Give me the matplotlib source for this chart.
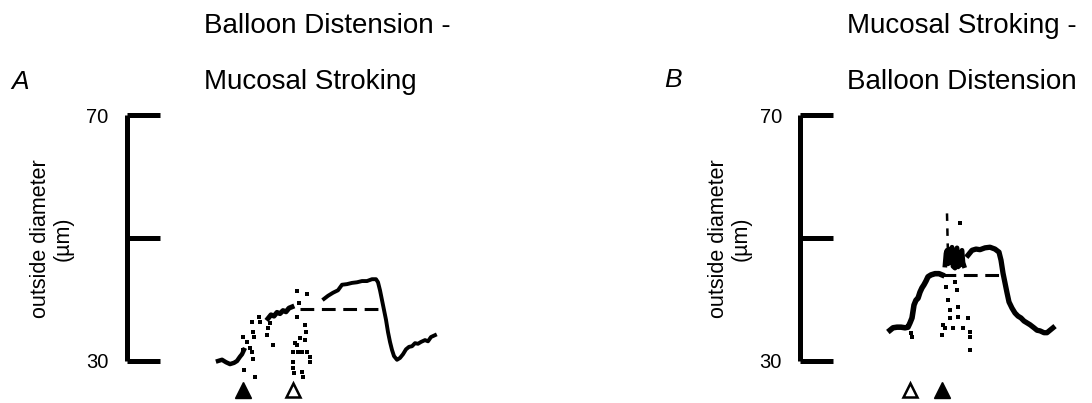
"""
Outside diameter traces for two stimulus orders (panel A / panel B).
"""

import matplotlib
matplotlib.use("Agg")
import matplotlib.pyplot as plt

plt.rcParams["font.family"] = ["Liberation Sans", "DejaVu Sans"]

W, H = 1092, 403

# ── Data: panel A (Balloon Distension - Mucosal Stroking) ───────────────────
a_t1 = [0, 4, 8, 12, 16, 19, 22, 24, 26]
a_v1 = [30.0, 30.2, 29.8, 29.5, 29.7, 30.0, 30.7, 31.1, 31.8]

a_t2 = [50, 53, 56, 59, 62, 65, 68, 71, 74]
a_v2 = [36.9, 37.5, 37.3, 37.9, 37.7, 38.2, 38.0, 38.6, 38.8]

a_t3 = [106, 110, 115, 120, 124, 129, 134, 139, 144, 149, 154, 158, 160, 162,
        164, 166, 168, 170, 172, 174, 176, 179, 182, 185, 188, 191, 194, 197,
        200, 203, 207, 210, 213, 217]
a_v3 = [40.1, 40.6, 41.1, 41.5, 42.4, 42.5, 42.7, 42.8, 43.0, 43.0, 43.3, 43.3,
        42.8, 41.5, 39.9, 38.3, 36.7, 34.7, 33.1, 31.8, 30.8, 30.2, 30.5, 31.1,
        31.9, 32.3, 32.4, 32.9, 32.8, 33.1, 33.4, 33.2, 33.9, 34.2]

a_dash_t = [82, 164]
a_dash_v = [38.5, 38.5]

a_dots_t = [25, 25, 29, 32, 34, 35, 34, 35, 36, 41, 42, 26, 37, 49, 50, 55, 52,
            79, 89, 81, 79, 87, 88, 82, 79, 75, 80, 84, 89, 92, 92, 75, 75, 76,
            84, 85, 77, 87]
a_dots_v = [33.9, 31.8, 33.1, 32.1, 31.5, 30.3, 36.3, 34.7, 33.9, 37.2, 36.3,
            28.5, 27.4, 34.2, 35.4, 32.6, 36.2, 41.4, 40.9, 39.4, 37.2, 35.9,
            34.7, 33.7, 32.6, 31.5, 31.5, 31.5, 31.5, 30.7, 29.8, 29.8, 28.9,
            28.0, 28.2, 27.4, 32.9, 33.4]

a_filled_t, a_open_t = 25, 75

# ── Data: panel B (Mucosal Stroking - Balloon Distension) ───────────────────
b_t1 = [0, 3, 7, 11, 15, 18, 20, 22, 24, 26, 28, 30, 32, 34, 36, 38, 41, 45,
        49, 52]
b_v1 = [35.0, 35.4, 35.5, 35.5, 35.4, 35.5, 36.2, 37.0, 39.1, 39.9, 40.2, 41.2,
        41.9, 42.4, 43.0, 43.7, 44.0, 44.2, 44.2, 44.0]

b_t2 = [55, 56, 57, 58, 60, 61, 62, 63, 65, 66, 67, 68, 70, 71, 72, 73, 74]
b_v2 = [45.6, 47.5, 48.0, 45.8, 46.1, 48.2, 48.5, 45.4, 45.1, 47.9, 48.4, 45.3,
        45.6, 47.6, 48.0, 46.0, 45.5]

b_t3 = [78, 82, 86, 90, 95, 100, 105, 109, 111, 113, 115, 117, 119, 122, 125,
        128, 131, 134, 137, 140, 144, 147, 150, 154, 157, 160, 163]
b_v3 = [47.2, 48.0, 48.2, 48.1, 48.4, 48.5, 48.2, 47.7, 46.4, 44.3, 42.7, 41.1,
        39.6, 38.6, 37.8, 37.3, 37.0, 36.5, 36.2, 35.9, 35.4, 35.0, 34.9, 34.6,
        34.6, 35.0, 35.4]

b_dash_t = [52, 113]
b_dash_v = [44.0, 44.0]

b_spike_t = [57, 58]
b_spike_v = [54.0, 47.0]

b_dots_t = [58, 60, 68, 68, 53, 55, 52, 63, 73, 78, 80, 80, 80, 65, 67, 60, 56,
            22, 21, 70]
b_dots_v = [39.9, 38.3, 38.8, 37.2, 35.9, 35.4, 34.2, 35.4, 35.4, 37.0, 34.7,
            33.9, 31.8, 42.8, 41.5, 37.0, 42.0, 33.9, 34.6, 52.4]

b_open_t, b_filled_t = 20, 52

marker_v = 25.3
ylim = (24, 72)


def px_axes(left, width, bottom_px, top_px):
    return [left / W, 1 - bottom_px / H, width / W, (bottom_px - top_px) / H]


def style_axes(ax):
    for s in ("top", "right", "bottom"):
        ax.spines[s].set_visible(False)
    ax.spines["left"].set_bounds(30, 70)
    ax.spines["left"].set_linewidth(3.6)
    ax.spines["left"].set_capstyle("butt")
    ax.set_ylim(*ylim)
    ax.set_yticks([30, 50, 70])
    ax.set_yticklabels(["30", "", "70"])
    ax.tick_params(axis="y", direction="in", length=23.8, width=3.6,
                   labelsize=14.5, pad=13)
    ax.set_xticks([])
    ax.patch.set_alpha(0)


fig = plt.figure(figsize=(W / 100, H / 100), dpi=100)

# y pixel of 24 µm and 72 µm given 30→361 px, 6.15 px per µm
bot_px = 361 + (30 - ylim[0]) * 6.15
top_px = 361 - (ylim[1] - 30) * 6.15

axA = fig.add_axes(px_axes(126.5, 321.5, bot_px, top_px))
axA.set_xlim(-91.5, 230)
style_axes(axA)
axA.plot(a_t1, a_v1, color="black", lw=3.2, solid_joinstyle="round")
axA.plot(a_t2, a_v2, color="black", lw=3.6, solid_joinstyle="round")
axA.plot(a_t3, a_v3, color="black", lw=2.8, solid_joinstyle="round")
axA.plot(a_dash_t, a_dash_v, color="black", lw=2.2, linestyle=(0, (4.5, 2.5)))
axA.plot(a_dots_t, a_dots_v, "s", color="black", ms=2.5, mew=0)
axA.plot([a_filled_t], [marker_v], "^", color="black", ms=11, clip_on=False)
axA.plot([a_open_t], [marker_v], "^", mfc="white", mec="black", mew=1.8,
         ms=10, clip_on=False)

axB = fig.add_axes(px_axes(800, 292, bot_px, top_px))
axB.set_xlim(-90, 202)
style_axes(axB)
axB.plot(b_t1, b_v1, color="black", lw=4.0, solid_joinstyle="round")
axB.plot(b_t2, b_v2, color="black", lw=3.4, solid_joinstyle="round")
axB.plot(b_t3, b_v3, color="black", lw=3.8, solid_joinstyle="round")
axB.plot(b_dash_t, b_dash_v, color="black", lw=2.2, linestyle=(0, (4.5, 2.5)))
axB.plot(b_spike_t, b_spike_v, color="black", lw=1.8, linestyle=(0, (3, 3)))
axB.plot(b_dots_t, b_dots_v, "s", color="black", ms=3.0, mew=0)
axB.plot([b_open_t], [marker_v], "^", mfc="white", mec="black", mew=1.8,
         ms=10, clip_on=False)
axB.plot([b_filled_t], [marker_v], "^", color="black", ms=11, clip_on=False)

# ── Labels ──────────────────────────────────────────────────────────────────
ylab = "outside diameter\n(µm)"
fig.text(52 / W, 1 - 239 / H, ylab, rotation=90, ha="center", va="center",
         multialignment="center", fontsize=15.5, linespacing=1.1)
fig.text(730 / W, 1 - 239 / H, ylab, rotation=90, ha="center", va="center",
         multialignment="center", fontsize=15.5, linespacing=1.1)

fig.text(204 / W, 1 - 33 / H, "Balloon Distension -", fontsize=20,
         va="baseline")
fig.text(204 / W, 1 - 89 / H, "Mucosal Stroking", fontsize=20, va="baseline")
fig.text(847 / W, 1 - 33 / H, "Mucosal Stroking -", fontsize=20, va="baseline")
fig.text(847 / W, 1 - 89 / H, "Balloon Distension", fontsize=20, va="baseline")

fig.text(11 / W, 1 - 89 / H, "A", fontsize=19, style="italic", va="baseline")
fig.text(664 / W, 1 - 87 / H, "B", fontsize=19, style="italic", va="baseline")

fig.savefig("out.png", dpi=100)
plt.close(fig)
